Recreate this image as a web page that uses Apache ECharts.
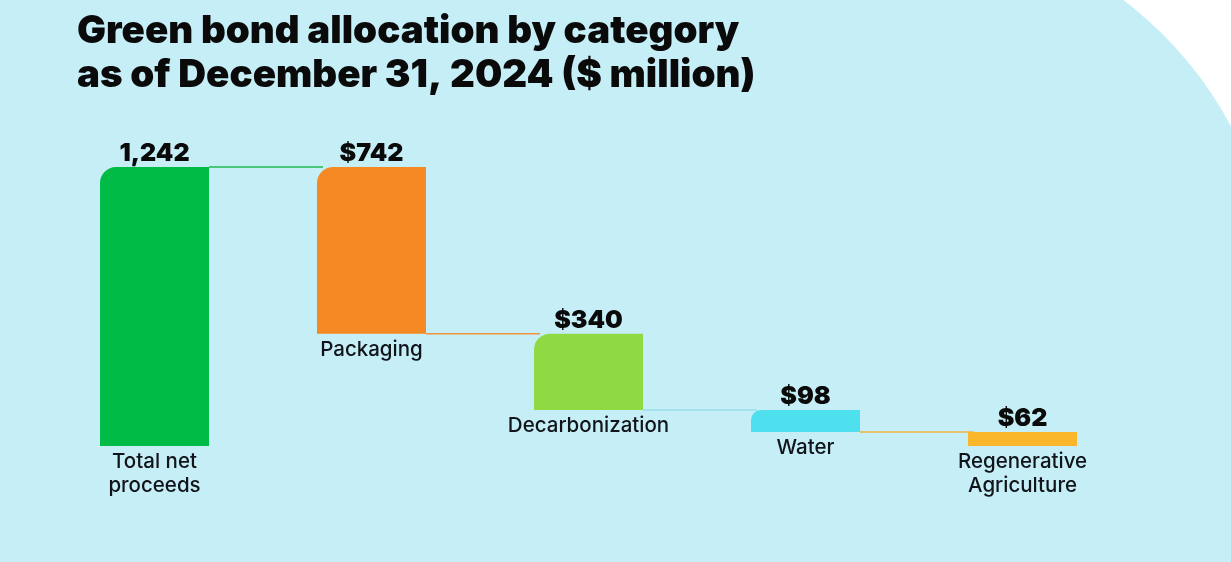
<!DOCTYPE html>
<html>
<head>
<meta charset="utf-8">
<script src="https://cdn.jsdelivr.net/npm/echarts@6/dist/echarts.min.js"></script>
<style>
html,body{margin:0;padding:0;background:#ffffff;}
#chart{width:1231px;height:562px;}
</style>
</head>
<body>
<div id="chart"></div>
<script>
const categories = ['Total net\nproceeds', 'Packaging', 'Decarbonization', 'Water', 'Regenerative\nAgriculture'];
const values = [1242, 742, 340, 98, 62];
const valueLabels = ['1,242', '$742', '$340', '$98', '$62'];
const barColors = ['#00bb45', '#f58a24', '#8fd942', '#4fe0f0', '#fbb72b'];
const connectorColors = ['#22b84f', '#f0933a', '#98dcef', '#f3b53f'];

// waterfall bases
const bases = values.map((v, i) => i === 0 ? 0 : null);
let running = values[0];
for (let i = 1; i < values.length; i++) { running -= values[i]; bases[i] = running; }
const tops = values.map((v, i) => bases[i] + v);

const connectorData = [];
for (let i = 0; i < values.length - 1; i++) {
  connectorData.push([i, i === 0 ? tops[0] : bases[i], i]);
}
const labelData = categories.map((c, i) => [i, bases[i], i]);

const chart = echarts.init(document.getElementById('chart'));
const BAR_W = 109;
chart.setOption({
  backgroundColor: 'transparent',
  animation: false,
  graphic: [
    { type: 'rect', z: -10, silent: true,
      shape: { x: 0, y: -78, width: 1276, height: 700, r: [0, 385, 0, 0] },
      style: { fill: '#c5eef7' } },
    { type: 'text', left: 77, top: 9, z: 10,
      style: { text: 'Green bond allocation by category\nas of December 31, 2024 ($ million)',
        font: '900 38.5px Inter', fill: '#0a0a0a', lineHeight: 44 } }
  ],
  grid: { left: 46, width: 1085, top: 167, bottom: 116 },
  xAxis: { type: 'category', data: categories, show: false },
  yAxis: { type: 'value', min: 0, max: 1242, show: false },
  series: [
    { type: 'bar', stack: 'w', data: bases, barWidth: BAR_W,
      itemStyle: { color: 'transparent' }, silent: true, z: 2 },
    { type: 'bar', stack: 'w', barWidth: BAR_W, z: 3,
      data: values.map((v, i) => ({
        value: v,
        itemStyle: { color: barColors[i], borderRadius: [i === 4 ? 0 : (v > 200 ? 16 : 10), 0, 0, 0] }
      })),
      label: { show: true, position: 'top', distance: 1,
        formatter: p => valueLabels[p.dataIndex],
        fontFamily: 'Inter', fontWeight: 900, fontSize: 25, color: '#0a0a0a' } },
    { type: 'custom', z: 1, data: connectorData,
      renderItem: function (params, api) {
        const i = api.value(0);
        const y = api.value(1);
        const p1 = api.coord([i, y]);
        const p2 = api.coord([i + 1, y]);
        const half = BAR_W / 2;
        return { type: 'line',
          shape: { x1: p1[0] + half, y1: p1[1], x2: p2[0] - half + 6, y2: p2[1] },
          style: { stroke: connectorColors[api.value(2)], lineWidth: 1.5 } };
      } },
    { type: 'custom', z: 4, data: labelData,
      renderItem: function (params, api) {
        const i = api.value(0);
        const p = api.coord([i, api.value(1)]);
        return { type: 'text', x: p[0], y: p[1] + 4,
          style: { text: categories[api.value(2)], align: 'center', verticalAlign: 'top',
            font: '500 20.5px Inter', fill: '#111418', lineHeight: 24 } };
      } }
  ]
});
</script>
</body>
</html>
